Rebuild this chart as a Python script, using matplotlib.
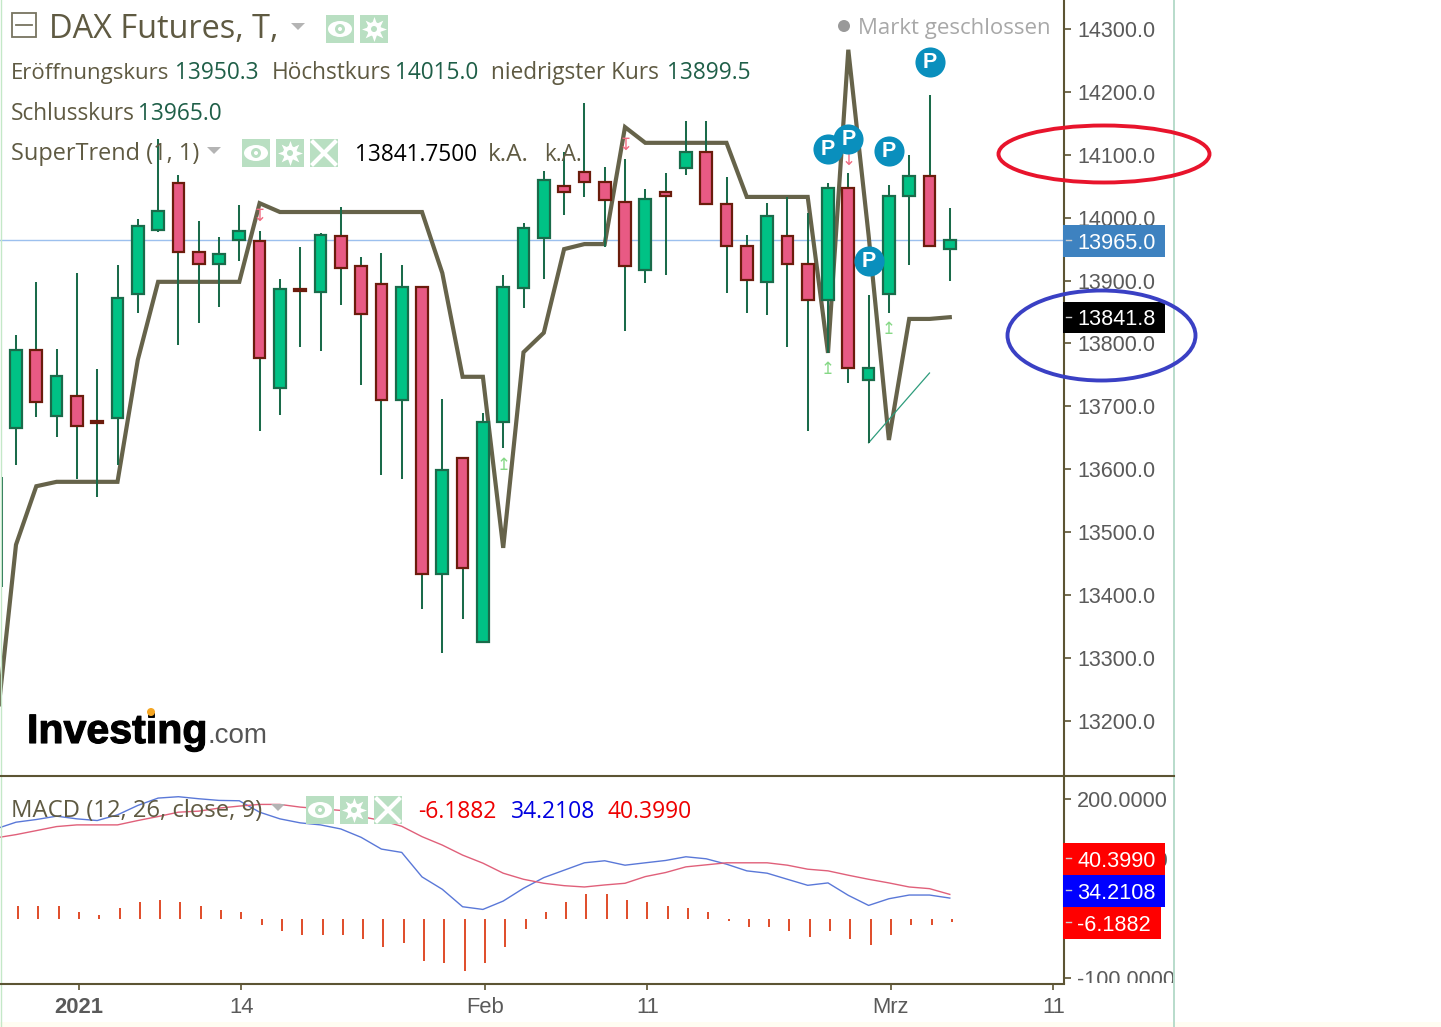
import matplotlib
matplotlib.use("Agg")
import matplotlib.pyplot as plt
import matplotlib.patheffects as pe
from matplotlib.patches import Rectangle, Ellipse, Circle, Polygon
from matplotlib.transforms import Bbox

W, H = 1441, 1027

# daily candles, oldest first
opens = [13666, 13790, 13685, 13716.5, 13677, 13681.5, 13879, 13980, 14055, 13945, 13926, 13965,
         13963, 13729, 13887, 13882, 13971, 13923, 13894.5, 13710, 13890, 13433, 13618, 13325,
         13675, 13888, 13968, 14050, 14073, 14057, 14025, 13917, 14041, 14079, 14104, 14022,
         13955, 13898, 13971, 13926, 13869, 14047, 13742, 13879, 14035, 14066, 13950.3]
highs = [13813, 13898, 13791, 13912, 13759, 13925, 13998, 14125, 14068, 13995, 13969, 14020,
         13979, 13902.5, 13953, 13976, 14017, 13937, 13944, 13925, 13890, 13712, 13618, 13689,
         13909, 13992, 14074, 14104, 14182, 14081, 14093, 14046, 14071, 14154, 14154, 14065,
         13972, 14023, 14033, 14007, 14055, 14071, 13877, 14052, 14100, 14195, 14015]
lows = [13607, 13683, 13651, 13584.5, 13556, 13607, 13848, 13977, 13797.5, 13832.5, 13858, 13931,
        13661, 13686, 13794, 13788, 13861, 13734, 13591, 13584.5, 13378, 13308, 13362, 13325,
        13634, 13856, 13902.5, 14004, 14033, 13953, 13820, 13896, 13909, 14068, 14022, 13880,
        13848, 13845, 13794, 13661, 13785, 13737, 13642, 13848, 13925, 13955, 13899.5]
closes = [13790, 13707, 13748, 13669, 13674, 13872, 13987, 14011, 13945, 13926, 13942, 13979,
          13777, 13887, 13883.4, 13972, 13920, 13847, 13710, 13890, 13433, 13599, 13443, 13675,
          13890, 13984, 14060, 14041, 14057, 14028, 13923, 14030, 14035, 14104, 14022, 13955,
          13901, 14003, 13926, 13869, 14047, 13761, 13761, 14035, 14066, 13955, 13965]
down_days = [1, 3, 4, 8, 9, 12, 14, 16, 17, 18, 20, 22, 27, 28, 29, 30, 32, 34, 35, 36, 38, 39, 41, 45]

# wick of the candle cut off by the left edge
cut_day = [-0.7]
cut_low = [13413]
cut_high = [13588]

# first value sits one day before the first candle
supertrend = [13177, 13480, 13573, 13580, 13580, 13580, 13580, 13774, 13898, 13898, 13898, 13898, 13898,
              14023, 14009, 14009, 14009, 14009, 14009, 14009, 14009, 14009, 13912, 13747, 13747,
              13475, 13786, 13817, 13950, 13958, 13958, 14144, 14119, 14119, 14119, 14119, 14119,
              14033, 14033, 14033, 14033, 13785, 14267, 13972, 13646.5, 13839, 13839, 13841.75]

macd_line = [150, 161.3, 165.8, 171.4, 166.9, 164.1, 173.6, 189.4, 201.7, 204, 200.6, 197.8, 197.2,
             178.1, 166.9, 160.2, 156.8, 150, 136, 116.3, 110.7, 69.7, 48.9, 19.7, 15.2,
             29.2, 50.6, 68.5, 80.9, 93.3, 96.7, 89.3, 93.3, 97.2, 103.4, 100, 91,
             79.8, 75.9, 65.7, 55.6, 59.6, 38.8, 21.9, 33.1, 39.3, 39.3, 34.21]
signal_line = [135, 140.5, 147.2, 154, 156.8, 156.8, 156.8, 164.1, 170.8, 178.1, 179.8, 184.9, 188.3,
               191.1, 191.1, 186.6, 183.8, 181, 170.8, 164.1, 154.5, 137.1, 123, 106.2, 92.7,
               75.9, 65.7, 59, 55, 52.8, 56.2, 59, 70.2, 77, 86.5, 89.9, 93.3,
               93.3, 93.3, 89.3, 82.6, 79.8, 72.5, 65.7, 59.6, 52.8, 50, 40.4]
histogram = [20.2, 20.2, 20.2, 10.1, 6.7, 16.9, 27, 30.3, 27, 20.2, 13.5, 10.1,
             -10.1, -20.2, -27, -27, -27, -33.7, -47.2, -40.5, -70.8, -74.2, -87.7, -74.2,
             -47.2, -16.9, 10.1, 27, 40.5, 40.5, 30.3, 27, 20.2, 16.9, 10.1, -3.4,
             -13.5, -13.5, -20.2, -30.3, -20.2, -33.7, -43.8, -27, -10.1, -10.1, -6.2]

# pivot markers and signal arrows: (day, price)
pivot_days = [40, 41, 42, 43, 45]
pivot_prices = [14109, 14125, 13931, 14106, 14247.5]
up_arrow_days = [24, 40, 43]
up_arrow_prices = [13607, 13759, 13823]
down_arrow_days = [12, 30, 41]
down_arrow_prices = [14003, 14116, 14092]
trend_days = [42, 45]
trend_prices = [13642, 13753]

last_close = 13965
price_ticks = [13200, 13300, 13400, 13500, 13600, 13700, 13800, 13900, 14000, 14100, 14200, 14300]
macd_ticks = [200, 100, -100]
date_ticks = [3, 11, 23, 31, 43, 51]
date_labels = ["2021", "14", "Feb", "11", "Mrz", "11"]

OLIVE = "#5c5433"
TEXT = "#5f5a42"
VALUE = "#1f5f48"
GREY = "#5a5a5a"
SANS = "Open Sans"
ARIAL = "Liberation Sans"

fig = plt.figure(figsize=(W / 100, H / 100), dpi=100, facecolor="white")
ax = fig.add_axes([0, 1 - 775 / H, 1064 / W, 775 / H])
ax2 = fig.add_axes([0, 1 - 983 / H, 1064 / W, 207 / H], sharex=ax)

days = list(range(len(opens)))
ax.plot(range(-1, len(opens)), supertrend, color="#66634a", lw=3, zorder=2, solid_joinstyle="miter")
ax.plot(trend_days, trend_prices, color="#2e9c7c", lw=0.9, zorder=2)
ax.axhline(last_close, color="#9cc0ee", lw=1.0, zorder=1)
ax.vlines(days, lows, highs, color="#1a6b4a", lw=1.45, zorder=2.5)
ax.vlines(cut_day, cut_low, cut_high, color="#1a6b4a", lw=1.45, zorder=2.5)
for i in days:
    low_body = min(opens[i], closes[i])
    size = abs(closes[i] - opens[i])
    if i in down_days:
        ax.bar(i, size, 0.58, low_body, color="#e85a84", edgecolor="#6b1c0c", lw=1.6, zorder=3)
    else:
        ax.bar(i, size, 0.58, low_body, color="#00c285", edgecolor="#1a6b4a", lw=1.6, zorder=3)
for d, p in zip(up_arrow_days, up_arrow_prices):
    ax.text(d, p, "\u21a5", color="#86d886", fontsize=12, ha="center", va="center", family="DejaVu Sans", zorder=4)
for d, p in zip(down_arrow_days, down_arrow_prices):
    ax.text(d, p, "\u21a7", color="#f06a80", fontsize=12, ha="center", va="center", family="DejaVu Sans", zorder=4)
ax.scatter(pivot_days, pivot_prices, s=470, color="#0a8fbd", zorder=5, linewidths=0)
for d, p in zip(pivot_days, pivot_prices):
    ax.text(d, p, "P", color="white", fontsize=15.5, fontweight="bold", ha="center", va="center",
            family=ARIAL, zorder=6)

ax.set_xlim(-16 / 20.3, (1064 - 16) / 20.3)
ax.set_ylim(13113.85, 14346.1)
ax.yaxis.tick_right()
ax.set_yticks(price_ticks)
ax.set_yticklabels(["%.1f" % t for t in price_ticks], fontsize=15.5, family=ARIAL, color=GREY)
ax.tick_params(axis="y", length=5, width=1.2, color=OLIVE, pad=4.5)
ax.tick_params(axis="x", bottom=False, labelbottom=False)

ax2.bar([d + 0.1 for d in days], histogram, 0.1, color="#e0502e", zorder=2)
ax2.plot(range(-1, len(opens)), macd_line, color="#5a78d8", lw=1.0, zorder=3)
ax2.plot(range(-1, len(opens)), signal_line, color="#e0607a", lw=1.0, zorder=3)
ax2.set_ylim((918.5 - 983) / 0.597, (918.5 - 776) / 0.597)
ax2.yaxis.tick_right()
ax2.set_yticks(macd_ticks)
ax2.set_yticklabels(["%.4f" % t for t in macd_ticks], fontsize=15.6, family=ARIAL, color=GREY)
ax2.tick_params(axis="y", length=5, width=1.2, color=OLIVE, pad=4.5)
ax2.set_xticks([d + 0.1 for d in date_ticks])
ax2.set_xticklabels(date_labels, fontsize=15.8, family=ARIAL, color=GREY)
ax2.get_xticklabels()[0].set_fontweight("bold")
ax2.tick_params(axis="x", length=5, width=1.2, color=OLIVE, pad=5)
# the -100 label is cut off by the panel edge
for lab in ax2.get_yticklabels():
    lab.set_clip_box(Bbox([[1064, H - 983], [1173, H - 776]]))
    lab.set_clip_on(True)

for a in (ax, ax2):
    for side in ("top", "left", "bottom"):
        a.spines[side].set_visible(False)
    a.spines["right"].set_color(OLIVE)
    a.spines["right"].set_linewidth(1.5)
    a.patch.set_alpha(0)

# everything that belongs to the screenshot around the chart, in pixels
ov = fig.add_axes([0, 0, 1, 1], zorder=10)
ov.set_xlim(0, W)
ov.set_ylim(H, 0)
ov.axis("off")


def put(x, y, s, color=TEXT, size=16.3, family=SANS, **kw):
    ov.text(x, y, s, color=color, fontsize=size, family=family, va="baseline", **kw)


def box(x0, y0, x1, y1, color):
    ov.add_patch(Rectangle((x0, y0), x1 - x0, y1 - y0, color=color, lw=0, zorder=1))


def triangle(x, y):
    ov.add_patch(Polygon([(x, y), (x + 14, y), (x + 7, y + 7)], color="#b4b4b4", lw=0, zorder=2))


def icon(kind, x, y):
    box(x, y, x + 28, y + 28, "#b9dfc2")
    cx, cy = x + 14, y + 14
    if kind == "eye":
        ov.add_patch(Ellipse((cx, cy), 24, 16, color="white", lw=0, zorder=2))
        ov.add_patch(Circle((cx, cy), 5, color="#b9dfc2", lw=0, zorder=3))
        ov.add_patch(Circle((cx, cy), 2, color="white", lw=0, zorder=4))
    elif kind == "gear":
        ov.plot([cx], [cy], marker=(8, 1), ms=18, color="white", mew=0, zorder=2)
        ov.add_patch(Circle((cx, cy), 7, color="white", lw=0, zorder=2))
        ov.add_patch(Circle((cx, cy), 3, color="#b9dfc2", lw=0, zorder=3))
    else:
        ov.plot([x + 3, x + 25], [y + 3, y + 25], color="white", lw=3, zorder=2)
        ov.plot([x + 3, x + 25], [y + 25, y + 3], color="white", lw=3, zorder=2)


# page edges and panel rules
box(0, 1022, W, H, "#fffdf2")
ov.plot([0.5, 0.5], [0, H], color="#c4e8c8", lw=1)
ov.plot([1174, 1174], [0, H], color="#b8dccb", lw=1.4)
ov.plot([0, 1174], [775.5, 775.5], color=OLIVE, lw=1.5)
ov.plot([0, 1064], [984, 984], color=OLIVE, lw=1.5)

# header
ov.add_patch(Rectangle((12, 13), 24, 24, fill=False, ec="#777460", lw=1.3))
ov.plot([16, 32], [25, 25], color="#777460", lw=1.3)
put(49, 38, "DAX Futures, T,", size=23.4)
triangle(291, 23)
icon("eye", 326, 15)
icon("gear", 360, 15)

put(11, 79, "Eröffnungskurs", size=16)
put(175, 79, "13950.3", VALUE)
put(272, 79, "Höchstkurs")
put(395, 79, "14015.0", VALUE)
put(491, 79, "niedrigster Kurs")
put(667, 79, "13899.5", VALUE)
put(11, 120, "Schlusskurs")
put(138, 120, "13965.0", VALUE)
put(11, 160, "SuperTrend (1, 1)", size=16.9)
triangle(207, 147)
icon("eye", 242, 139)
icon("gear", 276, 139)
icon("close", 310, 139)
put(355, 161, "13841.7500", "black")
put(488, 161, "k.A.", size=17.6)
put(544, 161, "k.A.")

ov.add_patch(Circle((844, 26), 6, color="#999999", lw=0))
put(858, 34, "Markt geschlossen", "#a8a8a8", 16)

# macd legend
put(11, 817, "MACD (12, 26, close, 9)", size=17.2)
triangle(271, 804)
icon("eye", 306, 796)
icon("gear", 340, 796)
icon("close", 374, 796)
put(418, 818, "-6.1882", "#ee0000", 16.5)
put(511, 818, "34.2108", "#0000e0", 16.5)
put(607, 818, "40.3990", "#ee0000", 16.5)

# logo
put(27, 743, "Investing", "black", 29.6, ARIAL, fontweight="bold",
    path_effects=[pe.withStroke(linewidth=0.8, foreground="black")])
put(207, 743, ".com", "#555555", 20, ARIAL)
ov.add_patch(Circle((151, 712), 4, color="#f5a623", lw=0, zorder=3))

# value tags on the axes
tags = [
    (1063, 225, 1165, 257, "#3e82c0", "13965.0", 249),
    (1063, 302, 1165, 333, "black", "13841.8", 325),
    (1063, 843, 1165, 875, "#ff0000", "40.3990", 867),
    (1063, 875, 1165, 907, "#0000ff", "34.2108", 899),
    (1063, 907, 1161, 939, "#ff0000", "-6.1882", 931),
]
for x0, y0, x1, y1, col, label, base in tags:
    box(x0, y0, x1, y1, col)
    ov.plot([1066, 1071], [(y0 + y1) / 2 - 1] * 2, color="#cccccc", lw=1, zorder=2)
    put(1077, base, label, "white", 15.6, ARIAL, zorder=3)

# hand drawn circles
ov.add_patch(Ellipse((1104, 154), 211, 57, fill=False, ec="#e8142c", lw=2.8, zorder=5))
ov.add_patch(Ellipse((1101.5, 335.5), 188, 90, fill=False, ec="#3a40c4", lw=2.8, zorder=5))

fig.savefig("out.png", dpi=100)
